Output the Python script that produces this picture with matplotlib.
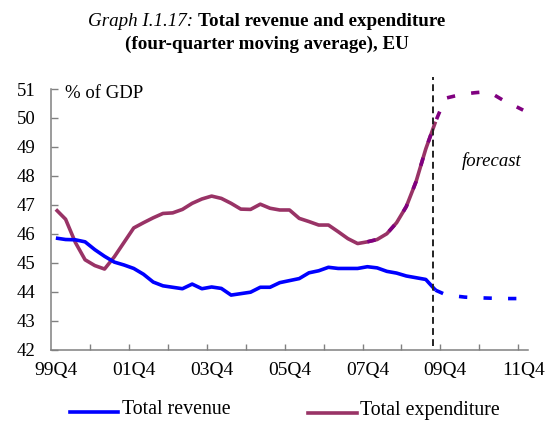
import matplotlib
matplotlib.use("Agg")
import matplotlib.pyplot as plt
from matplotlib.lines import Line2D
import numpy as np

# ---- data (quarters 99Q4 .. 11Q4, index 0..48) ----
tick_labels = ["99Q4", "01Q4", "03Q4", "05Q4", "07Q4", "09Q4", "11Q4"]

revenue_actual = [45.85, 45.80, 45.79, 45.72, 45.45, 45.22, 45.02, 44.92, 44.80, 44.60,
                  44.33, 44.20, 44.15, 44.10, 44.26, 44.10, 44.16, 44.11, 43.88, 43.93,
                  43.98, 44.15, 44.15, 44.31, 44.38, 44.45, 44.65, 44.72, 44.84, 44.80,
                  44.80, 44.80, 44.86, 44.82, 44.70, 44.64, 44.54, 44.48, 44.42, 44.05]
revenue_forecast = [44.05, 43.90, 43.85, 43.81, 43.79, 43.78, 43.77, 43.76, 43.76, 43.76]
revenue_forecast_start = 39

expenditure_actual = [46.84, 46.50, 45.70, 45.10, 44.90, 44.78, 45.20, 45.70, 46.20, 46.38,
                      46.55, 46.70, 46.72, 46.84, 47.05, 47.20, 47.30, 47.22, 47.05, 46.85,
                      46.84, 47.02, 46.88, 46.82, 46.82, 46.53, 46.42, 46.30, 46.30, 46.07,
                      45.83, 45.66, 45.72, 45.80, 46.00, 46.38, 46.94, 47.80, 48.93, 49.87]
expenditure_forecast = [45.72, 45.80, 46.00, 46.38, 46.94, 47.80, 48.93, 49.87,
                        50.68, 50.76, 50.83, 50.87, 50.90, 50.80, 50.60, 50.44, 50.27]
expenditure_forecast_start = 32

forecast_break = 38.7

# ---- figure ----
W, H = 547, 421
fig = plt.figure(figsize=(W / 100, H / 100), dpi=100)
serif = ["Liberation Serif", "DejaVu Serif"]
plt.rcParams["font.family"] = serif

left, right, bottom, top = 51, 528, 349.5, 89
ax = fig.add_axes([left / W, 1 - bottom / H, (right - left) / W, (bottom - top) / H])

blue = "#0000FF"
plum = "#993366"
purple = "#800080"

x_ra = np.arange(len(revenue_actual))
x_ea = np.arange(len(expenditure_actual))
x_rf = np.arange(revenue_forecast_start, revenue_forecast_start + len(revenue_forecast))
x_ef = np.arange(expenditure_forecast_start, expenditure_forecast_start + len(expenditure_forecast))

lw = 2.6
ax.plot(x_ea, expenditure_actual, color=plum, lw=lw, solid_capstyle="butt", zorder=3)
ax.plot(x_ra, revenue_actual, color=blue, lw=lw, solid_capstyle="butt", zorder=3)
ax.plot(x_ef, expenditure_forecast, color=purple, lw=lw, dashes=(2.3, 4.5), zorder=4)
ax.plot(x_rf, revenue_forecast, color=blue, lw=lw, dashes=(2.3, 4.5), zorder=4)

ax.plot([forecast_break, forecast_break], [42.12, 51.4], color="#222222", lw=1.4,
        dashes=(3.5, 2.2), clip_on=False, zorder=5)

ax.set_xlim(-0.5, 48.5)
ax.set_ylim(42, 51)
ax.set_yticks(np.arange(42, 52, 1))
ax.set_xticks(np.arange(0, 49, 8))
ax.set_xticklabels(tick_labels)
ax.set_xticks(np.arange(3.5, 48, 4), minor=True)

gray = "#808080"
for s in ["top", "right"]:
    ax.spines[s].set_visible(False)
for s in ["left", "bottom"]:
    ax.spines[s].set_color(gray)
    ax.spines[s].set_linewidth(1.1)

ax.tick_params(axis="y", direction="in", length=5, width=1.0, color=gray,
               labelsize=13.5, pad=11)
ax.tick_params(axis="x", which="major", length=0, labelsize=14, pad=9)
ax.tick_params(axis="x", which="minor", direction="in", length=4, width=1.0, color=gray)
for lab in ax.get_xticklabels() + ax.get_yticklabels():
    lab.set_fontfamily(serif)

ax.text(0.0294, 0.981, "% of GDP", transform=ax.transAxes, fontsize=13.5,
        ha="left", va="center", family=serif)
ax.text(0.9235, 0.7236, "forecast", transform=ax.transAxes, fontsize=13.5,
        ha="center", va="center", style="italic", family=serif)

# ---- title ----
renderer = fig.canvas.get_renderer()
t1a = fig.text(0, 1 - 22 / H, "Graph I.1.17: ", fontsize=13.7, style="italic",
               ha="left", va="center", family=serif)
t1b = fig.text(0, 1 - 22 / H, "Total revenue and expenditure", fontsize=13.7,
               fontweight="bold", ha="left", va="center", family=serif)
wa = t1a.get_window_extent(renderer).width
wb = t1b.get_window_extent(renderer).width
cx = 267
x0 = cx - (wa + wb) / 2
t1a.set_x(x0 / W)
t1b.set_x((x0 + wa) / W)
fig.text(cx / W, 1 - 44 / H, "(four-quarter moving average), EU", fontsize=13.7,
         fontweight="bold", ha="center", va="center", family=serif)

# ---- legend ----
fig.add_artist(Line2D([70 / W, 118 / W], [1 - 411.7 / H] * 2, color=blue, lw=2.6))
fig.text(121.7 / W, 1 - 410 / H, "Total revenue", fontsize=14.3, ha="left",
         va="center", family=serif)
fig.add_artist(Line2D([308 / W, 357 / W], [1 - 412.7 / H] * 2, color=plum, lw=2.6))
fig.text(360 / W, 1 - 410 / H, "Total expenditure", fontsize=14.3, ha="left",
         va="center", family=serif)

fig.savefig("out.png", dpi=100)
